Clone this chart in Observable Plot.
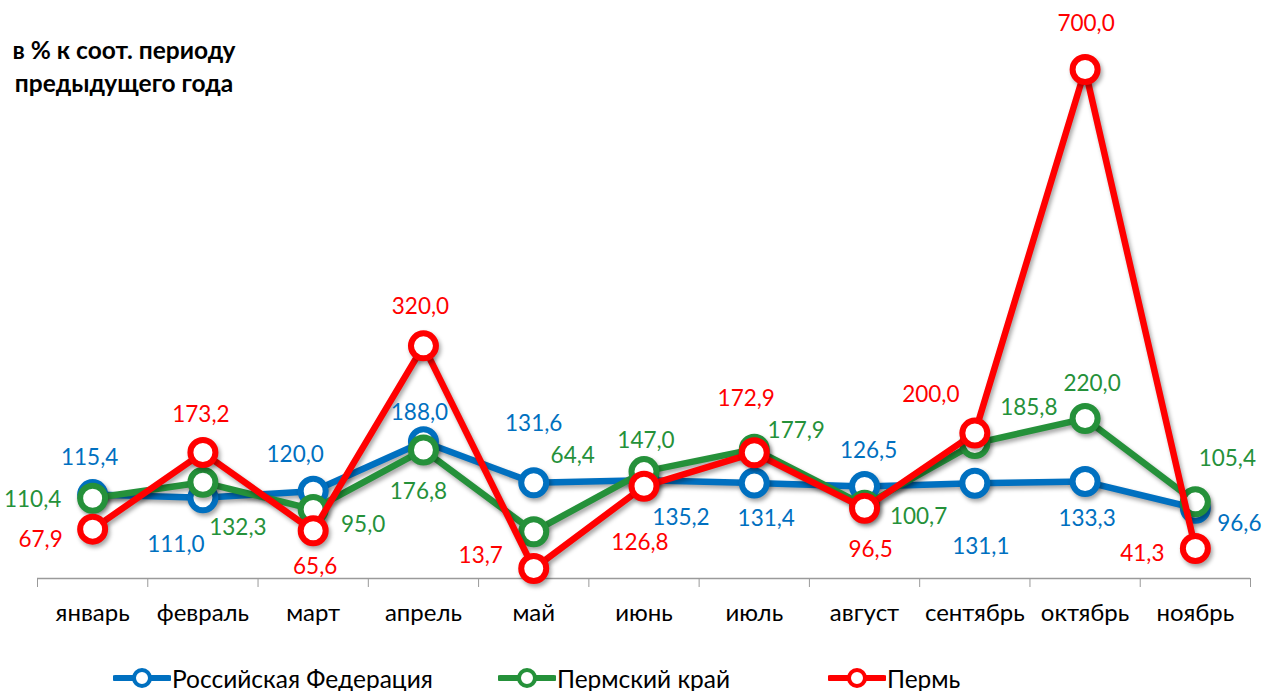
<!DOCTYPE html>
<html><head><meta charset="utf-8">
<script src="https://cdn.jsdelivr.net/npm/d3@7"></script>
<script src="https://cdn.jsdelivr.net/npm/@observablehq/plot@0.6"></script>
<style>
html,body{margin:0;padding:0;background:#fff;}
#wrap{position:relative;width:1267px;height:691px;font-family:Lato,"Open Sans",sans-serif;}
#title{position:absolute;left:0;top:33px;width:248px;text-align:center;font-weight:bold;font-size:24.5px;line-height:33px;color:#000;white-space:nowrap;}
#legend{position:absolute;top:664px;left:0;width:1267px;height:28px;font-size:24.5px;color:#000;}
.li{position:absolute;top:0;display:flex;align-items:center;height:28px;white-space:nowrap;}
.shadow{filter:drop-shadow(2px 3px 2px rgba(0,0,0,0.35));}
</style></head>
<body><div id="wrap"><div id="title">в % к соот. периоду<br>предыдущего года</div><div id="chart"></div><div id="legend"></div></div>
<script>
const months = ["январь","февраль","март","апрель","май","июнь","июль","август","сентябрь","октябрь","ноябрь"];
const seriesNames = ["Российская Федерация","Пермский край","Пермь"];
const rf   = [115.4,111.0,120.0,188.0,131.6,135.2,131.4,126.5,131.1,133.3,96.6];
const krai = [110.4,132.3,95.0,176.8,64.4,147.0,177.9,100.7,185.8,220.0,105.4];
const perm = [67.9,173.2,65.6,320.0,13.7,126.8,172.9,96.5,200.0,700.0,41.3];

// layout: label offsets (px) relative to each point
const rfLabelOffset   = [[-3,-37],[-27,47],[-18,-36],[-4,-29],[0,-59],[37,38],[12,36],[4,-36],[6,64],[2,37],[44,16]];
const kraiLabelOffset = [[-60,2],[35,45],[50,15],[-5,42],[39,-76],[2,-31],[42,-18],[54,12],[54,-36],[7,-35],[32,-43]];
const permLabelOffset = [[-52,11],[-2,-38],[2,36],[-3,-39],[-53,-13],[-4,56],[-8,-54],[6,41],[-44,-38],[1,-46],[-53,5]];
const colors = ["#0070C0","#25913A","#FF0000"];

const series = [rf, krai, perm];
const offsets = [rfLabelOffset, kraiLabelOffset, permLabelOffset];
const fmt = v => v.toFixed(1).replace(".", ",");

const marks = [];
marks.push(Plot.ruleY([0], {stroke:"#9a9a9a", strokeWidth:1.3}));
marks.push(Plot.axisX({ticks: d3.range(0, months.length + 1), tickSize: 9, tickFormat: () => "", stroke:"#9a9a9a", anchor:"bottom"}));
marks.push(Plot.text(months, {x: (d,i) => i + 0.5, y: () => 0, text: d => d, dy: 35, fontSize: 24, fill: "#000"}));

series.forEach((vals, s) => {
  const data = vals.map((v, i) => ({i, v}));
  marks.push(Plot.line(data, {x: d => d.i + 0.5, y: "v", stroke: colors[s], strokeWidth: 6.5, strokeLinejoin:"round", className:"shadow"}));
  marks.push(Plot.dot(data, {x: d => d.i + 0.5, y: "v", r: 12.5, fill: "#fff", stroke: colors[s], strokeWidth: 6, className:"shadow"}));
});
series.forEach((vals, s) => {
  vals.forEach((v, i) => {
    marks.push(Plot.text([{i, v}], {x: d => d.i + 0.5, y: "v", text: d => fmt(d.v), dx: offsets[s][i][0], dy: offsets[s][i][1], fill: colors[s], fontSize: 22.5, textAnchor:"middle", lineAnchor:"middle"}));
  });
});

const chart = Plot.plot({
  width: 1267, height: 640,
  marginLeft: 37, marginRight: 17, marginTop: 0, marginBottom: 62,
  x: {type:"linear", domain:[0, months.length], axis: null},
  y: {domain:[0, 795], axis: null},
  style: {fontFamily: "Lato, 'Open Sans', sans-serif", background:"#fff", overflow:"visible"},
  marks
});
document.getElementById("chart").appendChild(chart);

const legendX = [113, 498, 828];
const lg = document.getElementById("legend");
seriesNames.forEach((name, s) => {
  const div = document.createElement("div");
  div.className = "li";
  div.style.left = legendX[s] + "px";
  div.innerHTML = `<svg width="58" height="28"><line x1="2" y1="14" x2="56" y2="14" stroke="${colors[s]}" stroke-width="6" stroke-linecap="round"/><circle cx="29" cy="14" r="8" fill="#fff" stroke="${colors[s]}" stroke-width="4"/></svg><span style="margin-left:1px">${name}</span>`;
  lg.appendChild(div);
});
</script></body></html>
